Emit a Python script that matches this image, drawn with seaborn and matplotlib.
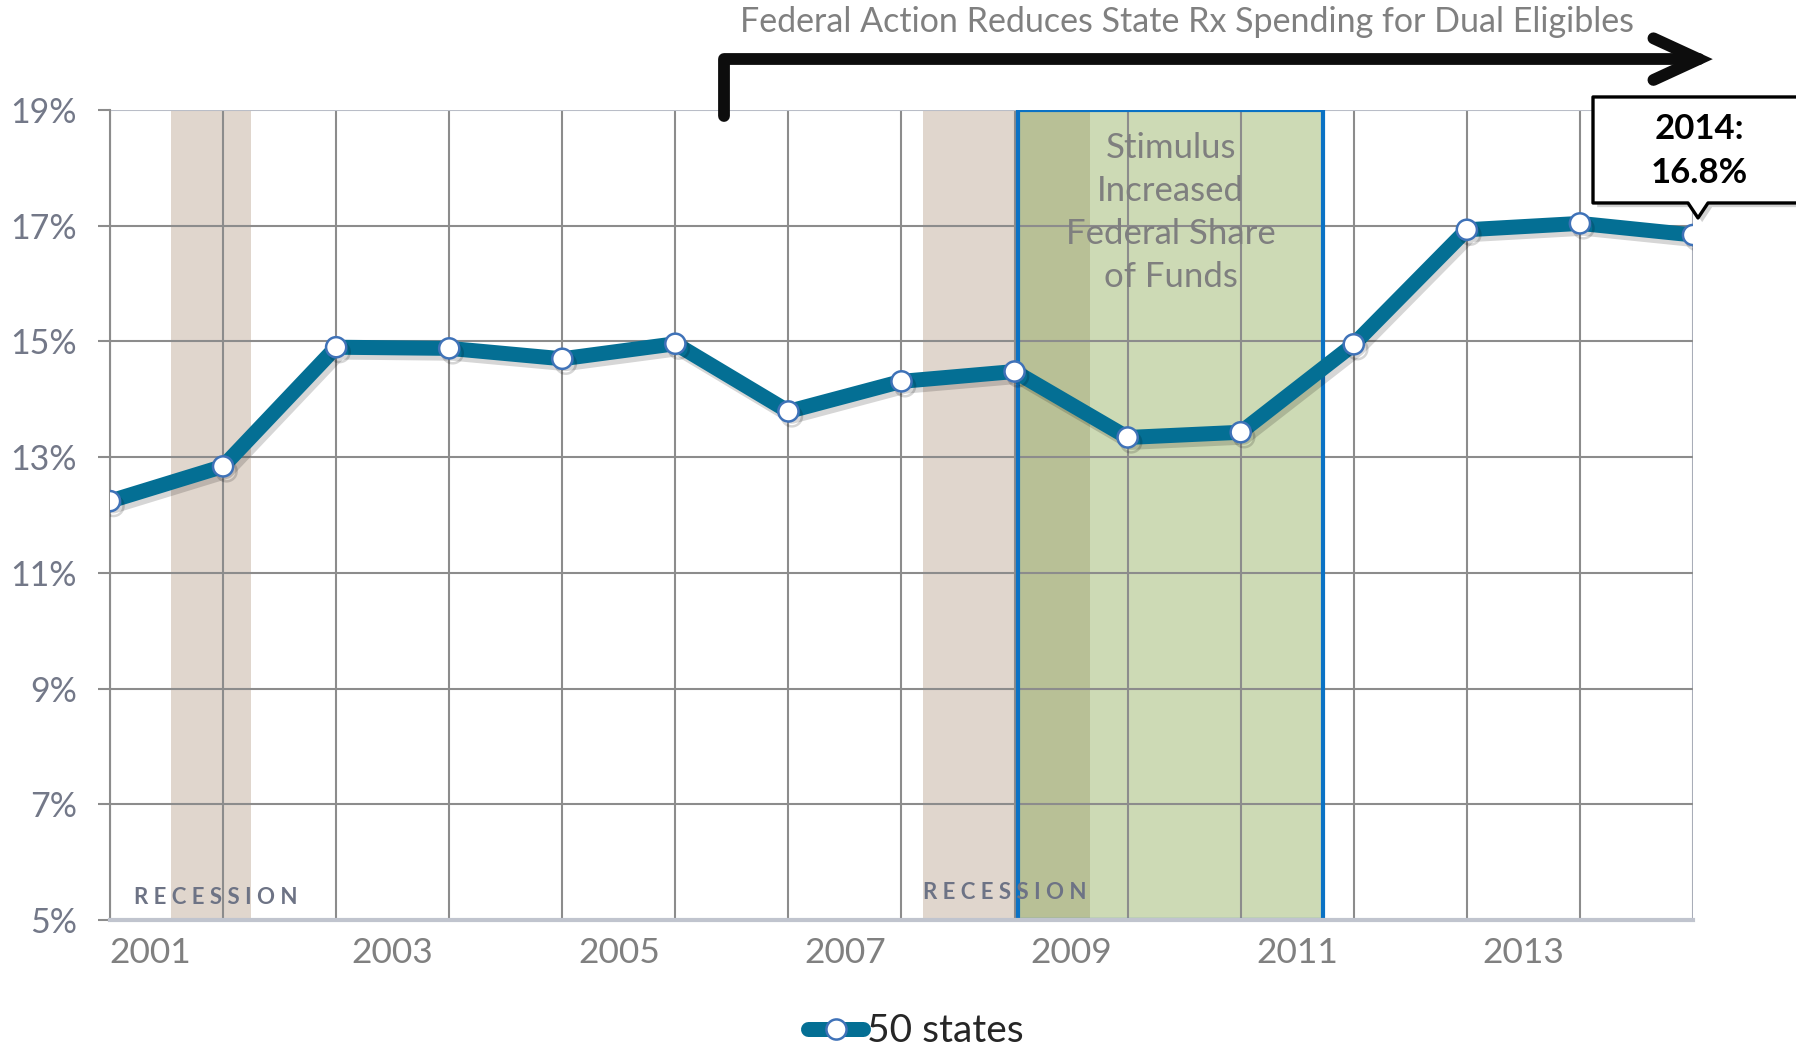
import matplotlib
matplotlib.use("Agg")
import matplotlib.pyplot as plt
import matplotlib.patheffects as pe
import matplotlib.transforms as mtransforms
from matplotlib.patches import Rectangle, Polygon
from matplotlib.lines import Line2D
import seaborn as sns
import pandas as pd

# ---------------- data ----------------
years = list(range(2000, 2015))
share = [12.24, 12.84, 14.90, 14.88, 14.70, 14.96, 13.79, 14.31, 14.48,
         13.34, 13.43, 14.95, 16.93, 17.04, 16.84]
series_name = "50 states"
ytick_vals = [5, 7, 9, 11, 13, 15, 17, 19]
ytick_labels = ["5%", "7%", "9%", "11%", "13%", "15%", "17%", "19%"]
xtick_labels = ["2001", "2003", "2005", "2007", "2009", "2011", "2013"]
recessions = [(2000.54, 2001.25), (2007.19, 2008.67)]
stimulus = (2008.03, 2010.73)
federal_action_start = 2005.43
title_text = "Federal Action Reduces State Rx Spending for Dual Eligibles"
stimulus_text = "Stimulus\nIncreased\nFederal Share\nof Funds"
callout_text = "2014:\n16.8%"
recession_text = "R E C E S S I O N"

df = pd.DataFrame({"year": years, "share": share})

sns.set_theme(style="white")
plt.rcParams['font.family'] = ['Lato', 'DejaVu Sans']

fig = plt.figure(figsize=(17.96, 10.48), dpi=100)
ax = fig.add_axes([110 / 1796, 1 - 920 / 1048, (1693 - 110) / 1796, (920 - 110) / 1048])

ymin, ymax = ytick_vals[0], ytick_vals[-1]
ax.set_xlim(years[0], years[-1])
ax.set_ylim(ymin, ymax)

# shaded bands
beige = "#E0D6CD"
green = "#CDDAB5"
overlap = "#B8C096"
for (a, b) in recessions:
    ax.axvspan(a, b, color=beige, zorder=0.2, lw=0)
ax.axvspan(stimulus[0], stimulus[1], color=green, zorder=0.25, lw=0)
for (a, b) in recessions:
    lo, hi = max(a, stimulus[0]), min(b, stimulus[1])
    if hi > lo:
        ax.axvspan(lo, hi, color=overlap, zorder=0.3, lw=0)
ax.add_patch(Rectangle((stimulus[0], ymin), stimulus[1] - stimulus[0], ymax - ymin,
                       fill=False, edgecolor="#0B72C4", lw=3.0, zorder=1.0))

# grid
ax.set_axisbelow(True)
ax.set_xticks(years)
ax.set_xticks([int(l) - 0.5 for l in xtick_labels], minor=True)
ax.set_xticklabels([""] * len(years))
ax.set_xticklabels(xtick_labels, minor=True)
ax.set_yticks(ytick_vals)
ax.set_yticklabels(ytick_labels)
ax.grid(True, which="major", color="#8C8C8C", lw=1.5)
ax.tick_params(axis="x", which="both", length=0, labelsize=25.5, labelcolor="#808080", pad=12)
ax.tick_params(axis="y", which="major", length=9, width=1.5, color="#8C8C8C",
               labelsize=24.5, labelcolor="#737888", pad=15, left=True)
# first year label sits a little further left in the reference
first_tick = ax.xaxis.get_minor_ticks()[0]
first_tick.label1.set_transform(first_tick.label1.get_transform() +
                                mtransforms.ScaledTranslation(-0.16, 0, fig.dpi_scale_trans))
for g in ax.get_ygridlines()[-1:]:
    g.set_color("#B9BDC7")
for g in ax.get_xgridlines()[-1:]:
    g.set_color("#A9ADB8")

for s in ["top", "right"]:
    ax.spines[s].set_visible(False)
ax.spines["left"].set_color("#8C8C8C")
ax.spines["left"].set_linewidth(1.5)
ax.spines["bottom"].set_color("#C0C4CE")
ax.spines["bottom"].set_linewidth(3)

# line
teal = "#046F94"
sns.lineplot(data=df, x="year", y="share", ax=ax, color=teal, lw=10.8,
             marker="o", markersize=14.5, markerfacecolor="white",
             markeredgecolor="#3F72B8", markeredgewidth=1.8,
             label=series_name, zorder=5, legend=False,
             path_effects=[pe.SimpleLineShadow(offset=(2.5, -3.5), shadow_color="black", alpha=0.16),
                           pe.Normal()])
ax.set_xlabel("")
ax.set_ylabel("")

# recession labels
ax.text(recessions[0][0] - 0.33, ymin + 0.2, recession_text, fontsize=16, fontweight="bold",
        color="#6D7385", ha="left", va="bottom", zorder=6)
ax.text(recessions[1][0] - 0.0, ymin + 0.3, recession_text, fontsize=16, fontweight="bold",
        color="#6D7385", ha="left", va="bottom", zorder=6)

# stimulus text
ax.text((stimulus[0] + stimulus[1]) / 2, 18.62, stimulus_text, fontsize=25, color="#7F7F7F",
        ha="center", va="top", linespacing=1.42, zorder=6)

# federal action arrow
ya = 19 + 51 / 58.0
tip = 14.05 + years[0]
ax.add_line(Line2D([federal_action_start, federal_action_start, tip],
                   [ymax - 0.1, ya, ya], color="#0D0D0D", lw=8.5,
                   solid_capstyle="round", solid_joinstyle="round", clip_on=False, zorder=7))
ax.add_line(Line2D([tip - 0.40, tip, tip - 0.40],
                   [ya + 0.36, ya, ya - 0.36], color="#0D0D0D", lw=8.5,
                   solid_capstyle="round", solid_joinstyle="miter", clip_on=False, zorder=7))
fig.text(1187 / 1796, 1 - 22 / 1048, title_text, fontsize=24.5, color="#808080",
         ha="center", va="center")

# callout box anchored to last point
trans = fig.dpi_scale_trans + mtransforms.ScaledTranslation(years[-1], share[-1], ax.transData)
verts = [(-1.00, 0.32), (-1.00, 1.38), (1.40, 1.38), (1.40, 0.32),
         (0.15, 0.32), (0.05, 0.17), (-0.05, 0.32)]
callout = Polygon(verts, closed=True, transform=trans, facecolor="white",
                  edgecolor="black", lw=2.4, clip_on=False, zorder=8, joinstyle="round",
                  path_effects=[pe.SimplePatchShadow(offset=(3, -3), alpha=0.25), pe.Normal()])
ax.add_patch(callout)
ax.text(0.06, 0.84, callout_text, transform=trans, fontsize=25, fontweight="bold",
        color="black", ha="center", va="center", linespacing=1.45, zorder=9)

# legend
handle = Line2D([], [], color=teal, lw=10.8, marker="o", markersize=14.5,
                markerfacecolor="white", markeredgecolor="#3F72B8", markeredgewidth=1.8,
                solid_capstyle="round")
fig.legend([handle], [series_name], loc="center", bbox_to_anchor=(0.51, 0.016),
           frameon=False, fontsize=28, handlelength=1.4, handletextpad=0.1,
           borderpad=0, borderaxespad=0)

fig.savefig("out.png", dpi=100)
